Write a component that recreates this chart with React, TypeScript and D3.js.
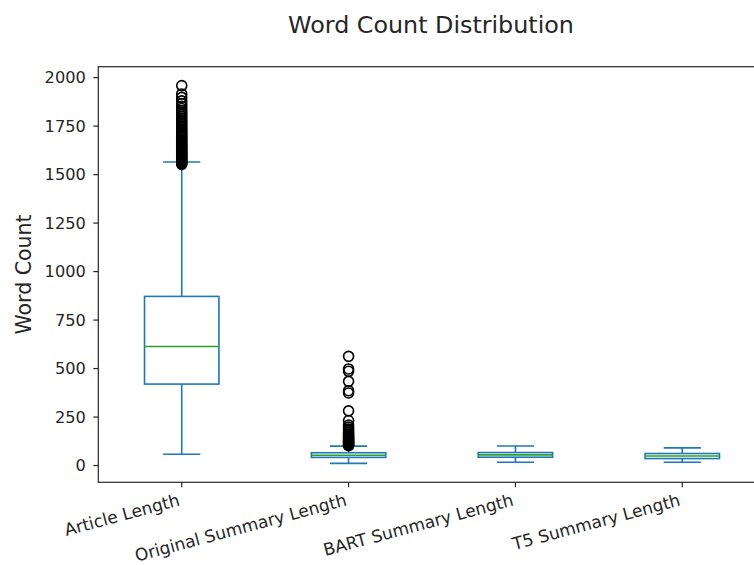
import React from "react";
import * as d3 from "d3";

// Box-plot summaries (word counts) for each text source
const categories = [
  "Article Length",
  "Original Summary Length",
  "BART Summary Length",
  "T5 Summary Length",
];
const lowerWhiskers = [58, 11, 17, 17];
const firstQuartiles = [420, 42, 43, 36];
const medians = [614, 53, 55, 49];
const thirdQuartiles = [872, 66, 67, 62];
const upperWhiskers = [1565, 100, 101, 91];

// Outlying points beyond the whiskers
const articleOutliers = [
  1553, 1557, 1561, 1566, 1570, 1574, 1579, 1583, 1588, 1593, 1598, 1603, 1608,
  1613, 1619, 1624, 1630, 1636, 1641, 1647, 1653, 1659, 1665, 1672, 1678, 1684,
  1691, 1698, 1705, 1712, 1719, 1727, 1734, 1742, 1750, 1758, 1766, 1775, 1783,
  1792, 1801, 1811, 1820, 1830, 1841, 1852, 1866, 1880, 1898, 1916, 1959,
];
const originalSummaryOutliers = [
  102, 105, 108, 111, 114, 117, 120, 123, 127, 131, 135, 139, 143, 148, 153,
  158, 164, 171, 179, 188, 198, 209, 232, 282, 374, 386, 434, 486, 498, 563,
];
const bartOutliers: number[] = [];
const t5Outliers: number[] = [];
const outliers = [articleOutliers, originalSummaryOutliers, bartOutliers, t5Outliers];

const yTicks = [0, 250, 500, 750, 1000, 1250, 1500, 1750, 2000];

const W = 754;
const H = 565;
const left = 98.3;
const right = 765.7;
const top = 66.7;
const bottom = 482.3;
const FONT = "'DejaVu Sans', sans-serif";
const BLUE = "#1f77b4";
const GREEN = "#2ca02c";
const INK = "#262626";

export default function App() {
  const allValues = [...lowerWhiskers, ...upperWhiskers, ...outliers.flat()];
  const dMin = d3.min(allValues) as number;
  const dMax = d3.max(allValues) as number;
  const pad = (dMax - dMin) * 0.05;

  const y = d3.scaleLinear().domain([dMin - pad, dMax + pad]).range([bottom, top]);
  const x = d3.scaleLinear().domain([0.5, categories.length + 0.5]).range([left, right]);
  const step = x(2) - x(1);
  const boxW = step * 0.446;
  const capW = boxW / 2;
  const lw = 1.6;

  return (
    <svg
      width={W}
      height={H}
      style={{ position: "absolute", left: 0, top: 0, background: "#fff" }}
      fontFamily={FONT}
    >
      <rect x={0} y={0} width={W} height={H} fill="#fff" />
      <text x={431} y={33} textAnchor="middle" fontSize={23.8} fill={INK}>
        Word Count Distribution
      </text>

      {/* boxes */}
      {categories.map((c, i) => {
        const cx = x(i + 1);
        return (
          <g key={c}>
            <line x1={cx} x2={cx} y1={y(firstQuartiles[i])} y2={y(lowerWhiskers[i])} stroke={BLUE} strokeWidth={lw} />
            <line x1={cx} x2={cx} y1={y(thirdQuartiles[i])} y2={y(upperWhiskers[i])} stroke={BLUE} strokeWidth={lw} />
            <line x1={cx - capW / 2} x2={cx + capW / 2} y1={y(lowerWhiskers[i])} y2={y(lowerWhiskers[i])} stroke={BLUE} strokeWidth={lw} />
            <line x1={cx - capW / 2} x2={cx + capW / 2} y1={y(upperWhiskers[i])} y2={y(upperWhiskers[i])} stroke={BLUE} strokeWidth={lw} />
            <rect
              x={cx - boxW / 2}
              y={y(thirdQuartiles[i])}
              width={boxW}
              height={y(firstQuartiles[i]) - y(thirdQuartiles[i])}
              fill="none"
              stroke={BLUE}
              strokeWidth={lw}
            />
            <line x1={cx - boxW / 2} x2={cx + boxW / 2} y1={y(medians[i])} y2={y(medians[i])} stroke={GREEN} strokeWidth={lw} />
            {outliers[i].map((v, j) => (
              <circle key={j} cx={cx} cy={y(v)} r={5} fill="none" stroke="#000" strokeWidth={1.6} />
            ))}
          </g>
        );
      })}

      {/* spines */}
      <rect x={left} y={top} width={right - left} height={bottom - top} fill="none" stroke={INK} strokeWidth={1.2} />

      {/* y axis */}
      {yTicks.map((t) => (
        <g key={t}>
          <line x1={left - 5} x2={left} y1={y(t)} y2={y(t)} stroke={INK} strokeWidth={1.2} />
          <text x={left - 12.5} y={y(t)} textAnchor="end" dominantBaseline="central" fontSize={16.2} fill={INK}>
            {t}
          </text>
        </g>
      ))}
      <text
        transform={`translate(23.5, ${(top + bottom) / 2}) rotate(-90)`}
        textAnchor="middle"
        dominantBaseline="central"
        fontSize={20.5}
        fill={INK}
      >
        Word Count
      </text>

      {/* x axis */}
      {categories.map((c, i) => {
        const cx = x(i + 1);
        const px = cx - 1;
        const py = bottom + 23;
        return (
          <g key={c}>
            <line x1={cx} x2={cx} y1={bottom} y2={bottom + 5} stroke={INK} strokeWidth={1.2} />
            <text
              x={px}
              y={py}
              transform={`rotate(-15, ${px}, ${py})`}
              textAnchor="end"
              fontSize={17}
              fill={INK}
            >
              {c}
            </text>
          </g>
        );
      })}
    </svg>
  );
}
